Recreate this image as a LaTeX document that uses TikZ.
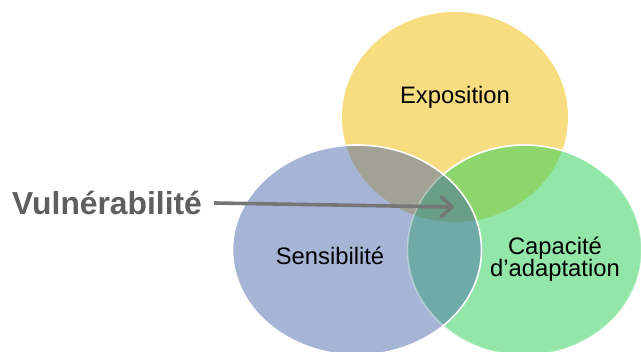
\documentclass[tikz,border=0pt]{standalone}
\usepackage{fontspec}
\setmainfont{Liberation Sans}
\usetikzlibrary{arrows.meta}
\definecolor{cY}{HTML}{F7DC80}
\definecolor{cB}{HTML}{A6B4D6}
\definecolor{cG}{HTML}{91E6A8}
\definecolor{cYB}{HTML}{A2A294}
\definecolor{cYG}{HTML}{8DD66B}
\definecolor{cBG}{HTML}{6FA9A8}
\definecolor{cYBG}{HTML}{6A9F87}
\definecolor{arrowgray}{HTML}{767676}
\definecolor{vgray}{HTML}{5F5F5F}
\begin{document}
\begin{tikzpicture}[x=1pt,y=-1pt,
  lbl/.style={font=\fontsize{23.8}{22}\selectfont, text=black, inner sep=0pt, anchor=base},
  outline/.style={draw=white, line width=1.6pt}]
\useasboundingbox (0,0) rectangle (641,352);
% base fills
\fill[cY] (455,117) ellipse [x radius=113, y radius=105];
\fill[cB] (357,250) ellipse [x radius=124.5, y radius=105];
\fill[cG] (524.5,250) ellipse [x radius=117, y radius=105];
% overlaps
\begin{scope}
  \clip (455,117) ellipse [x radius=113, y radius=105];
  \fill[cYB] (357,250) ellipse [x radius=124.5, y radius=105];
  \fill[cYG] (524.5,250) ellipse [x radius=117, y radius=105];
\end{scope}
\begin{scope}
  \clip (357,250) ellipse [x radius=124.5, y radius=105];
  \fill[cBG] (524.5,250) ellipse [x radius=117, y radius=105];
  \begin{scope}
    \clip (455,117) ellipse [x radius=113, y radius=105];
    \fill[cYBG] (524.5,250) ellipse [x radius=117, y radius=105];
  \end{scope}
\end{scope}
% outlines
\draw[outline, draw opacity=0.35] (524.5,250) ellipse [x radius=117, y radius=105];
\begin{scope}
  \clip (443,0) rectangle (641,176);
  \draw[outline] (524.5,250) ellipse [x radius=117, y radius=105];
\end{scope}
\draw[outline] (357,250) ellipse [x radius=124.5, y radius=105];
% labels
\node[lbl] (expo) at (455,103.5) {Exposition};
\node[lbl] (sens) at (330,265) {Sensibilité};
\node[lbl] (capa) at (555,254.5) {Capacité};
\node[lbl] (adap) at (555,277) {d’adaptation};
\node[font=\fontsize{31.8}{34}\bfseries\selectfont, text=vgray, inner sep=0pt, anchor=base west] (vuln) at (12,215) {Vulnérabilité};
\coordinate (tip) at (454,207);
\draw[arrowgray, line width=3.6pt, -{Straight Barb[length=11pt, width=20pt, round]}]
  ([xshift=12pt, yshift=0.5pt]vuln.east) -- (tip);
\end{tikzpicture}
\end{document}
